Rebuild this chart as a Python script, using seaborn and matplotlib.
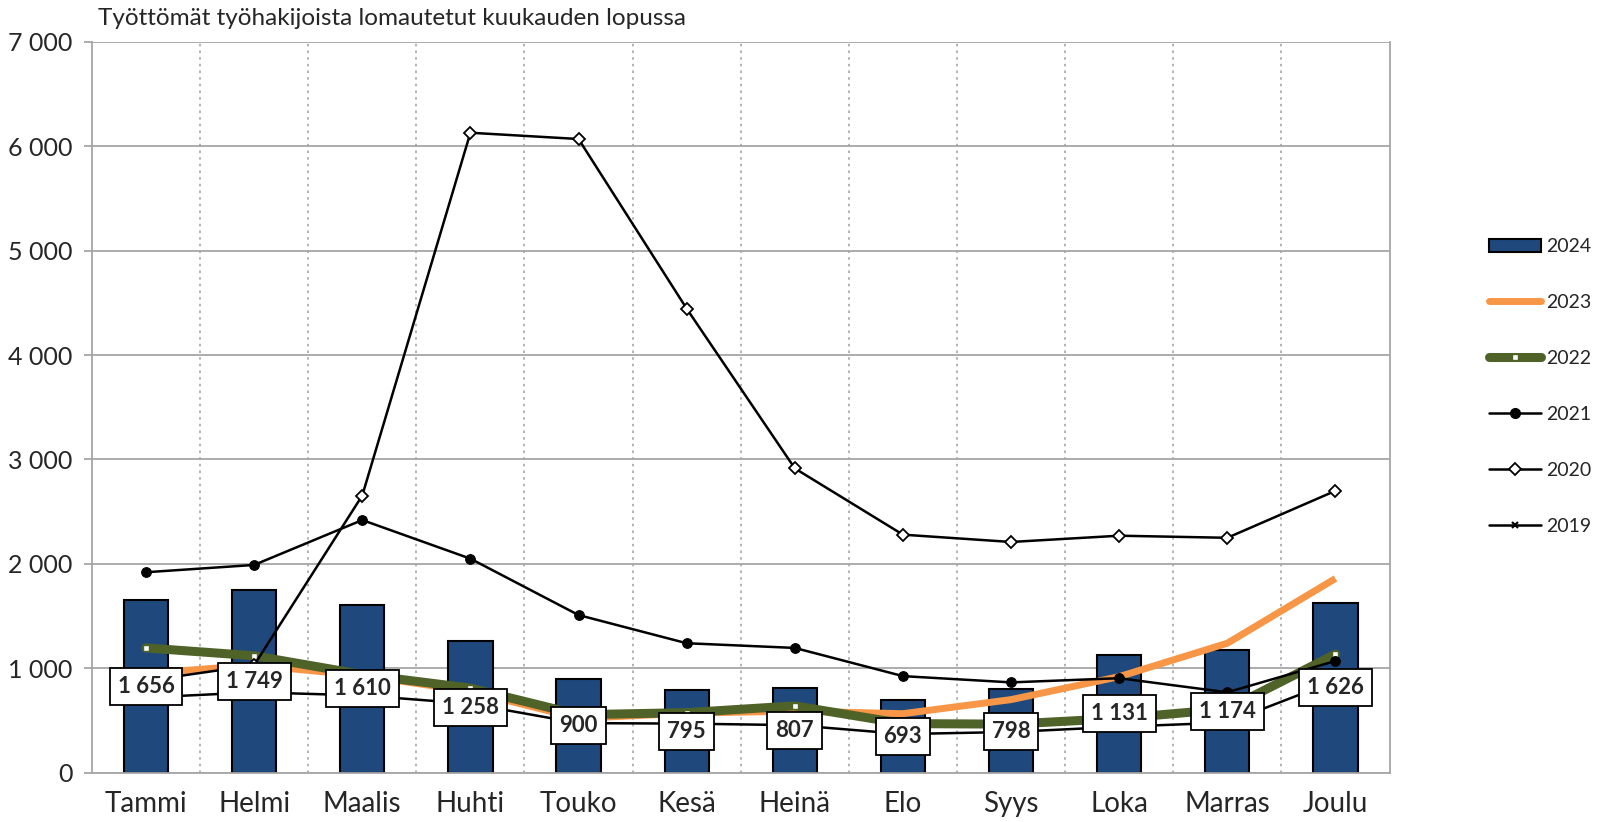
import matplotlib
matplotlib.use("Agg")
import matplotlib.pyplot as plt
import seaborn as sns
import numpy as np
import pandas as pd
from matplotlib.lines import Line2D
from matplotlib.patches import Patch
from matplotlib.ticker import FuncFormatter, MultipleLocator

months = ["Tammi", "Helmi", "Maalis", "Huhti", "Touko", "Kesä",
          "Heinä", "Elo", "Syys", "Loka", "Marras", "Joulu"]

v2024 = [1656, 1749, 1610, 1258, 900, 795, 807, 693, 798, 1131, 1174, 1626]
v2023 = [950, 1030, 930, 780, 520, 570, 590, 565, 700, 920, 1240, 1860]
v2022 = [1195, 1120, 940, 810, 555, 575, 640, 470, 465, 520, 610, 1135]
v2021 = [1920, 1990, 2420, 2050, 1510, 1240, 1195, 925, 865, 905, 770, 1070]
v2020 = [880, 1030, 2655, 6130, 6070, 4445, 2915, 2280, 2210, 2270, 2250, 2700]
v2019 = [720, 770, 740, 660, 475, 470, 455, 370, 390, 440, 480, 880]

title = "Työttömät työhakijoista lomautetut kuukauden lopussa"

sns.set_style("white")
plt.rcParams["font.family"] = ["Lato", "DejaVu Sans"]

x = np.arange(len(months))
df = pd.DataFrame({"kk": months, "x": x, "2024": v2024, "2023": v2023,
                   "2022": v2022, "2021": v2021, "2020": v2020, "2019": v2019})

fig = plt.figure(figsize=(15.99, 8.22), dpi=100)
ax = fig.add_axes([0.0575, 0.060, 0.8115, 0.889])

grid_col = "#A6A6A6"
blue = "#1F497D"
orange = "#F79646"
green = "#4F6228"

sns.barplot(data=df, x="x", y="2024", color=blue, width=0.41,
            edgecolor="black", linewidth=1.5, saturation=1, ax=ax, zorder=2)

sns.lineplot(data=df, x="x", y="2023", color=orange, lw=5, ax=ax, zorder=3,
             solid_capstyle="butt")
sns.lineplot(data=df, x="x", y="2022", color=green, lw=6.5, marker="s",
             markersize=5, markerfacecolor="white", markeredgecolor=green,
             markeredgewidth=1, ax=ax, zorder=4)
sns.lineplot(data=df, x="x", y="2021", color="black", lw=1.8, marker="o",
             markersize=7, markerfacecolor="black", markeredgecolor="black",
             ax=ax, zorder=5)
sns.lineplot(data=df, x="x", y="2020", color="black", lw=1.8, marker="D",
             markersize=6.5, markerfacecolor="white", markeredgecolor="black",
             markeredgewidth=1.3, ax=ax, zorder=6)
sns.lineplot(data=df, x="x", y="2019", color="black", lw=1.8, marker="x",
             markersize=5, markeredgewidth=1.5, ax=ax, zorder=7)

fmt = lambda v: f"{int(v):,}".replace(",", " ")
for i, v in enumerate(v2024):
    ax.text(i, v / 2, fmt(v), ha="center", va="center", fontsize=16,
            fontweight="bold", zorder=10,
            bbox=dict(boxstyle="square,pad=0.36", fc="white", ec="black", lw=1.3))

ax.set_xlim(-0.5, len(months) - 0.5)
ax.set_ylim(0, 7000)
ax.yaxis.set_major_locator(MultipleLocator(1000))
ax.yaxis.set_major_formatter(FuncFormatter(lambda v, p: fmt(v)))
ax.set_xticks(x)
ax.set_xticklabels(months)
ax.set_xticks(np.arange(0.5, len(months) - 1, 1), minor=True)
ax.set_xlabel("")
ax.set_ylabel("")

ax.grid(axis="y", which="major", color=grid_col, lw=1.3, zorder=0)
ax.grid(axis="x", which="minor", color=grid_col, lw=1.2, ls=(0, (1.5, 2.5)), zorder=0)
ax.set_axisbelow(True)
for s in ["left", "right", "bottom", "top"]:
    ax.spines[s].set_color(grid_col)
    ax.spines[s].set_linewidth(1.3)
ax.spines["top"].set_visible(False)

ax.tick_params(axis="x", which="major", length=0, labelsize=20, pad=13)
ax.tick_params(axis="x", which="minor", length=0)
ax.tick_params(axis="y", length=6, color=grid_col, width=1.3, labelsize=18, pad=8, left=True)

fig.text(0.061, 0.978, title, ha="left", va="center", fontsize=17.5)

handles = [
    Patch(facecolor=blue, edgecolor="black", linewidth=1.5),
    Line2D([], [], color=orange, lw=5),
    Line2D([], [], color=green, lw=6.5, marker="s", markersize=5,
           markerfacecolor="white", markeredgecolor=green),
    Line2D([], [], color="black", lw=1.8, marker="o", markersize=7),
    Line2D([], [], color="black", lw=1.8, marker="D", markersize=6.5,
           markerfacecolor="white", markeredgewidth=1.3),
    Line2D([], [], color="black", lw=1.8, marker="x", markersize=5,
           markeredgewidth=1.5),
]
fig.legend(handles, ["2024", "2023", "2022", "2021", "2020", "2019"],
           loc="center left", bbox_to_anchor=(0.925, 0.53), frameon=False,
           fontsize=14, handlelength=2.7, handletextpad=0.25, labelspacing=2.0,
           borderpad=0)

fig.savefig("out.png", dpi=100)
